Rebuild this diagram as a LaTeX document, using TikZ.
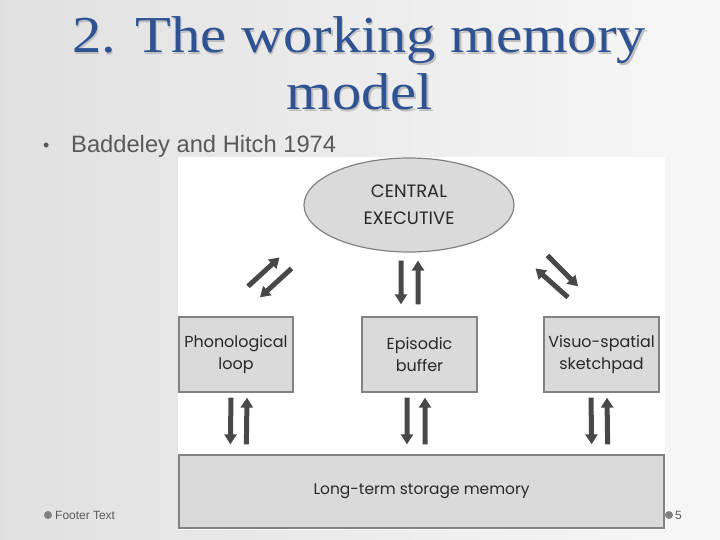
\documentclass[tikz,border=0pt]{standalone}
\usepackage{fontspec}
\setmainfont{Liberation Serif}
\newfontfamily\slidesans{Liberation Sans}
\newfontfamily\diagfont{Poppins}
\usetikzlibrary{arrows.meta,calc,shapes.geometric}
\definecolor{titleblue}{RGB}{46,82,146}
\definecolor{bodygray}{RGB}{89,89,89}
\definecolor{boxfill}{RGB}{218,218,218}
\definecolor{boxline}{RGB}{130,130,130}
\definecolor{arrowgray}{RGB}{72,72,72}
\definecolor{diagtext}{RGB}{40,40,40}
\tikzset{
  compbox/.style={draw=boxline, line width=1.3bp, fill=boxfill, rectangle, inner sep=0pt,
    align=center, text=diagtext, font=\diagfont\fontsize{16}{23}\selectfont},
  fatarrow/.style={draw=arrowgray, line width=5bp, -{Triangle[width=12bp,length=10bp]}},
}
\begin{document}
\begin{tikzpicture}[x=1bp,y=-1bp]
\useasboundingbox (0,0) rectangle (720,540);
\shade[left color=black!12, right color=black!3] (0,0) rectangle (720,540);
\fill[white] (178,157) rectangle (665,530);
% title
\node[anchor=base, text=black!25, font=\fontsize{52}{57}\selectfont] (t1s) at (360.5,54.5) {\scalebox{1.13}[1]{2. The working memory}};
\node[anchor=base, text=titleblue, font=\fontsize{52}{57}\selectfont] (t1) at (359,53) {\scalebox{1.13}[1]{2. The working memory}};
\node[anchor=base, text=black!25, font=\fontsize{52}{57}\selectfont] (t2s) at (361.5,111.5) {\scalebox{1.13}[1]{model}};
\node[anchor=base, text=titleblue, font=\fontsize{52}{57}\selectfont] (t2) at (360,110) {\scalebox{1.13}[1]{model}};
% bullet
\node[anchor=base west, text=bodygray, font=\slidesans\fontsize{18}{24}\selectfont, inner sep=0pt] (bul) at (43,152) {\textbullet};
\node[anchor=base west, text=bodygray, font=\slidesans\fontsize{23.8}{28}\selectfont, inner sep=0pt] (sub) at (71,153) {Baddeley and Hitch 1974};
% diagram
\node[ellipse, draw=boxline, line width=1.2bp, fill=boxfill, minimum width=210bp, minimum height=94bp,
  inner sep=0pt, align=center, text=diagtext, font=\diagfont\fontsize{18}{27}\selectfont] (ce) at (409,205) {CENTRAL\\EXECUTIVE};
\node[compbox, minimum width=114bp, minimum height=75bp] (pl) at (236,354.5) {Phonological\\loop};
\node[compbox, minimum width=115bp, minimum height=75bp] (ep) at (419.5,354.5) {Episodic\\buffer};
\node[compbox, minimum width=115bp, minimum height=75bp] (vs) at (601.5,354.5) {Visuo-spatial\\sketchpad};
\node[compbox, minimum width=485bp, minimum height=73bp, font=\diagfont\fontsize{15.5}{20}\selectfont] (lt) at (421.5,491.5) {Long-term storage memory};
% upper arrows
\draw[fatarrow] ([xshift=-8bp,yshift=-8bp]ce.south) -- ([xshift=-18.5bp,yshift=12bp]ep.north);
\draw[fatarrow] ([xshift=-1.5bp,yshift=12bp]ep.north) -- ([xshift=9bp,yshift=-8bp]ce.south);
\draw[fatarrow] ([xshift=12bp,yshift=30bp]pl.north) -- ([xshift=-54.8bp,yshift=-18.8bp]ce.south west);
\draw[fatarrow] ([xshift=-42.8bp,yshift=-29.8bp]ce.south west) -- ([xshift=24bp,yshift=19bp]pl.north);
\draw[fatarrow] ([xshift=63.8bp,yshift=-16.8bp]ce.south east) -- ([xshift=-23.5bp,yshift=30bp]vs.north);
\draw[fatarrow] ([xshift=-33.5bp,yshift=19bp]vs.north) -- ([xshift=51.8bp,yshift=-29.8bp]ce.south east);
% lower arrows
\draw[fatarrow] ([xshift=-5bp,yshift=-5bp]pl.south) -- ([xshift=52bp,yshift=10bp]lt.north west);
\draw[fatarrow] ([xshift=68bp,yshift=10bp]lt.north west) -- ([xshift=11bp,yshift=-5bp]pl.south);
\draw[fatarrow] ([xshift=-12.5bp,yshift=-5bp]ep.south) -- ([xshift=-14.5bp,yshift=10bp]lt.north);
\draw[fatarrow] ([xshift=3.5bp,yshift=10bp]lt.north) -- ([xshift=5.5bp,yshift=-5bp]ep.south);
\draw[fatarrow] ([xshift=-10.5bp,yshift=-5bp]vs.south) -- ([xshift=-73bp,yshift=10bp]lt.north east);
\draw[fatarrow] ([xshift=-57bp,yshift=10bp]lt.north east) -- ([xshift=5.5bp,yshift=-5bp]vs.south);
% footer
\fill[black!50] (48,515) circle (4bp);
\node[anchor=west, text=bodygray, font=\slidesans\fontsize{12}{14}\selectfont, inner sep=0pt] (foot) at (55,515) {Footer Text};
\fill[black!50] (669,515) circle (4bp);
\node[anchor=west, text=bodygray, font=\slidesans\fontsize{12}{14}\selectfont, inner sep=0pt] (pg) at (675,515) {5};
\end{tikzpicture}
\end{document}
